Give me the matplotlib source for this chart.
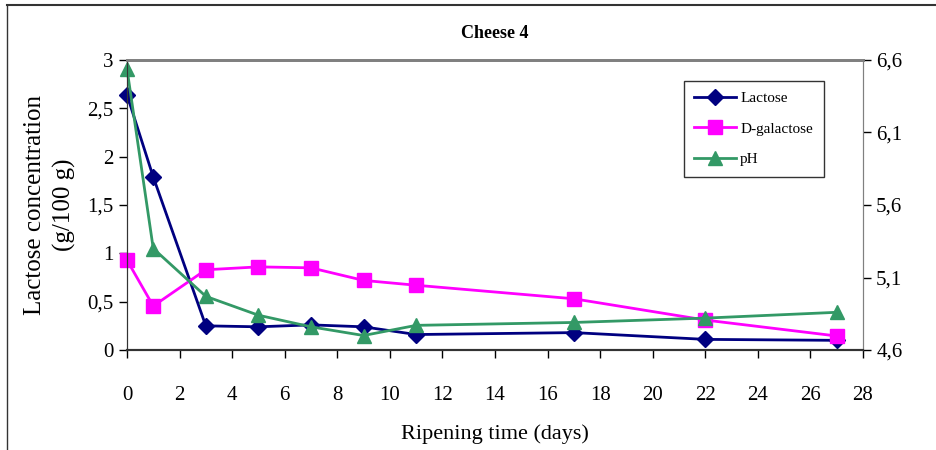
import numpy as np
import matplotlib
matplotlib.use('Agg')
import matplotlib.pyplot as plt
from matplotlib.lines import Line2D
from matplotlib.ticker import FuncFormatter

# ripening time (days)
days = [0, 1, 3, 5, 7, 9, 11, 17, 22, 27]
# g/100 g
lactose = [2.64, 1.79, 0.25, 0.24, 0.26, 0.24, 0.16, 0.18, 0.11, 0.10]
galactose = [0.93, 0.455, 0.83, 0.86, 0.85, 0.72, 0.67, 0.53, 0.31, 0.145]
# pH on right axis
ph = [6.54, 5.30, 4.97, 4.84, 4.76, 4.70, 4.77, 4.79, 4.82, 4.86]

plt.rcParams['font.family'] = ['Liberation Serif', 'DejaVu Serif']

fig = plt.figure(figsize=(9.37, 4.5), dpi=100)
ax1 = fig.add_axes([0.1355, 0.2222, 0.7855, 0.6445])
ax2 = ax1.twinx()

l1, = ax1.plot(days, lactose, color='#000080', lw=2, marker='D', ms=8,
               label='Lactose', clip_on=False)
l2, = ax1.plot(days, galactose, color='#FF00FF', lw=2, marker='s', ms=10,
               label='D-galactose', clip_on=False)
l3, = ax2.plot(days, ph, color='#339966', lw=2, marker='^', ms=10,
               label='pH', clip_on=False)

ax1.set_xlim(0, 28)
ax1.set_ylim(0, 3)
ax2.set_ylim(4.6, 6.6)
ax1.set_xticks(np.arange(0, 29, 2))
ax1.set_yticks(np.arange(0, 3.01, 0.5))
ax2.set_yticks([4.6, 5.1, 5.6, 6.1, 6.6])

comma = FuncFormatter(lambda v, p: ('%g' % round(v, 2)).replace('.', ','))
ax1.yaxis.set_major_formatter(comma)
ax2.yaxis.set_major_formatter(comma)

ax1.tick_params(axis='both', direction='out', length=6, width=1, labelsize=15)
ax1.tick_params(axis='x', pad=20)
ax2.tick_params(axis='y', direction='out', length=6, width=1, labelsize=15)

for ax in (ax1, ax2):
    ax.spines['top'].set_color('#808080')
    ax.spines['top'].set_linewidth(2)
    ax.spines['right'].set_color('#808080')
    ax.spines['left'].set_color('#333333')
    ax.spines['bottom'].set_color('#333333')
    ax.spines['bottom'].set_linewidth(1.5)

ax1.set_ylabel('Lactose concentration\n(g/100 g)', fontsize=18, labelpad=8,
               linespacing=1.4)
ax1.set_xlabel('Ripening time (days)', fontsize=16, labelpad=14)
ax1.set_title('Cheese 4', fontsize=13, fontweight='bold', pad=16)

leg = ax2.legend(handles=[l1, l2, l3], loc='upper right',
                 bbox_to_anchor=(0.957, 0.955), fontsize=11, frameon=True,
                 fancybox=False, edgecolor='black', labelspacing=1.1,
                 handlelength=2.7, borderpad=0.7, handletextpad=0.3)
leg.get_frame().set_linewidth(1)

# outer chart frame
fig.add_artist(Line2D([7/937, 1.0], [1 - 5/450, 1 - 5/450], color='#333333', lw=1.5))
fig.add_artist(Line2D([7/937, 7/937], [0, 1 - 5/450], color='#333333', lw=1))

fig.savefig('out.png', dpi=100)
